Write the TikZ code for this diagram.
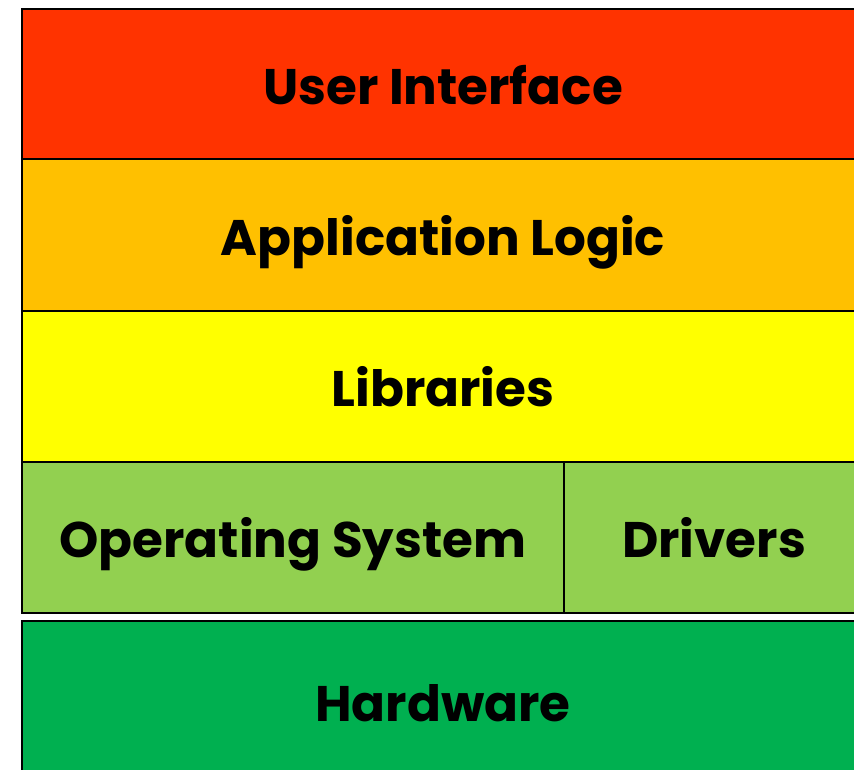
\documentclass[tikz,border=0pt]{standalone}
\usepackage{fontspec}
\setmainfont{Poppins}[BoldFont={* Bold}]
\definecolor{uired}{HTML}{FF3300}
\definecolor{logicorange}{HTML}{FFC000}
\definecolor{libyellow}{HTML}{FFFF00}
\definecolor{oslime}{HTML}{92D050}
\definecolor{hwgreen}{HTML}{00B050}
\tikzset{layer/.style={draw, line width=2pt, anchor=north west, inner sep=0pt,
  text height=40pt, text depth=0pt,
  font=\fontsize{50}{56}\selectfont\bfseries}}
\begin{document}
\begin{tikzpicture}[x=1pt, y=-1pt]
\useasboundingbox (0,0) rectangle (854,769);

\node [layer, fill=uired, minimum width=842pt, minimum height=150pt] (ui) at (21,8) {User Interface};
\node [layer, fill=logicorange, minimum width=842pt, minimum height=152pt] (logic) at (21,158) {Application Logic};
\node [layer, fill=libyellow, minimum width=842pt, minimum height=151pt] (lib) at (21,310) {Libraries};
\node [layer, fill=oslime, minimum width=542pt, minimum height=151pt] (os) at (21,461) {Operating System};
\node [layer, fill=oslime, minimum width=300pt, minimum height=151pt] (drv) at (563,461) {Drivers};

\node [layer, fill=hwgreen, minimum width=842pt, minimum height=160pt] (hw) at (21,620) {Hardware};

\end{tikzpicture}
\end{document}
